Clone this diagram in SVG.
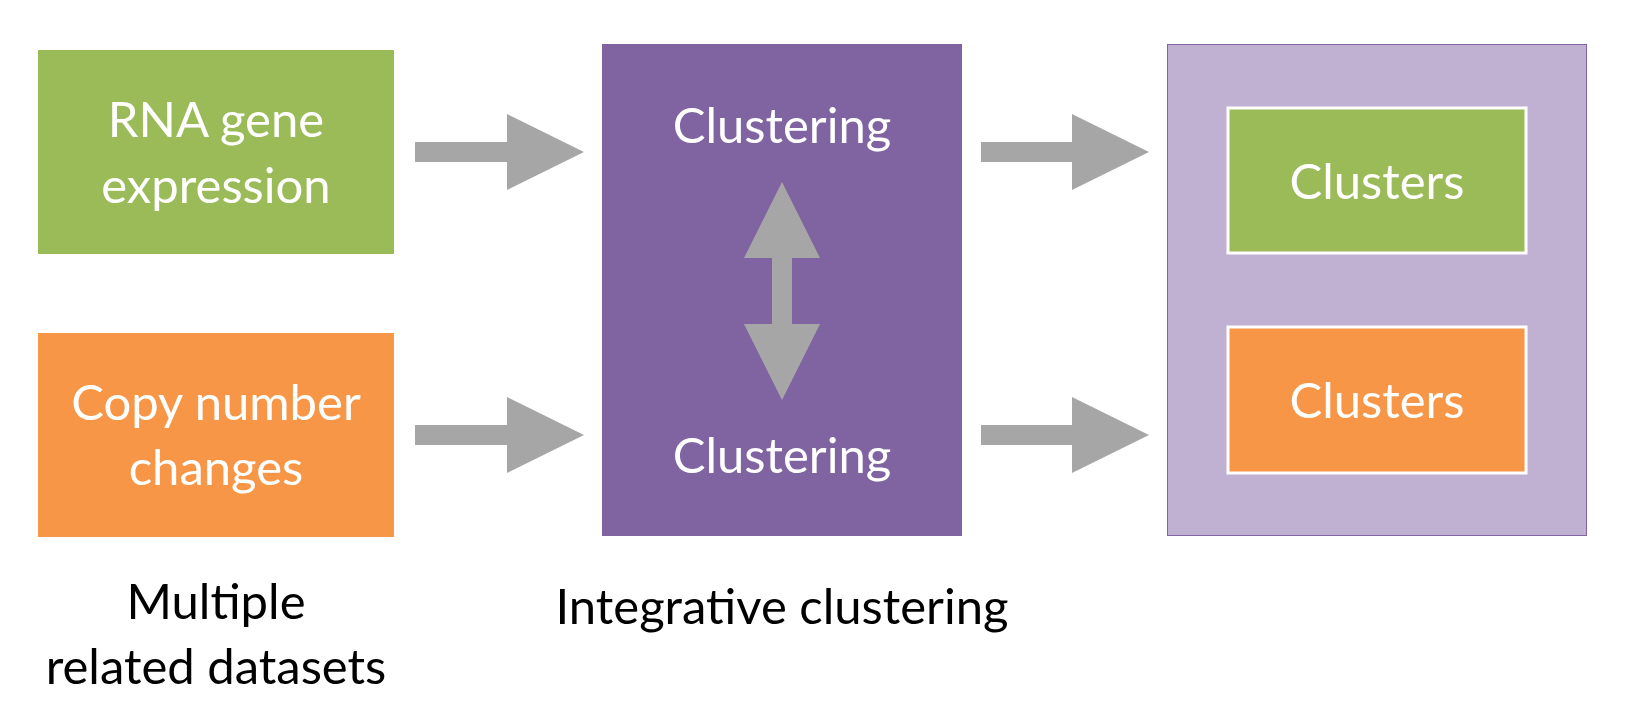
<svg xmlns="http://www.w3.org/2000/svg" width="1630" height="718" viewBox="0 0 1630 718">
<style>
.t{font-family:Lato,"Open Sans","Liberation Sans",sans-serif;font-size:49px;text-anchor:middle;fill:#FFFFFF}
.k{fill:#000000}
.arr{fill:#A6A6A6}
</style>
<rect width="1630" height="718" fill="#FFFFFF"/>
<g id="rna">
<rect x="38" y="50" width="356" height="204" fill="#9BBB59"/>
<text class="t" x="216" y="137">RNA gene</text>
<text class="t" x="216" y="203">expression</text>
</g>
<g id="copy">
<rect x="38" y="333" width="356" height="204" fill="#F79646"/>
<text class="t" x="216" y="420">Copy number</text>
<text class="t" x="216" y="485">changes</text>
</g>
<g id="integrative">
<rect x="602" y="44" width="360" height="492" fill="#8064A2"/>
<text class="t" x="782" y="143">Clustering</text>
<text class="t" x="782" y="473">Clustering</text>
</g>
<g id="result">
<rect x="1167.5" y="44.5" width="419" height="491" fill="#C0B1D2" stroke="#8064A2" stroke-width="1"/>
</g>
<g id="clusters1">
<rect x="1228" y="108" width="298" height="145" fill="#9BBB59" stroke="#FFFFFF" stroke-width="3"/>
<text class="t" x="1377" y="199">Clusters</text>
</g>
<g id="clusters2">
<rect x="1228" y="327" width="298" height="146" fill="#F79646" stroke="#FFFFFF" stroke-width="3"/>
<text class="t" x="1377" y="418">Clusters</text>
</g>
<g id="label-datasets">
<text class="t k" x="216" y="619">Multiple</text>
<text class="t k" x="216" y="684">related datasets</text>
</g>
<g id="label-integrative">
<text class="t k" x="782" y="624">Integrative clustering</text>
</g>
<g id="connectors">
<polygon class="arr" points="415,142 507,142 507,114 584,152 507,190 507,162 415,162"/>
<polygon class="arr" points="415,425 507,425 507,397 584,435 507,473 507,445 415,445"/>
<polygon class="arr" points="981,142 1072,142 1072,114 1149,152 1072,190 1072,162 981,162"/>
<polygon class="arr" points="981,425 1072,425 1072,397 1149,435 1072,473 1072,445 981,445"/>
<polygon class="arr" points="782,182 820,258 792,258 792,324 820,324 782,400 744,324 772,324 772,258 744,258"/>
</g>
</svg>
